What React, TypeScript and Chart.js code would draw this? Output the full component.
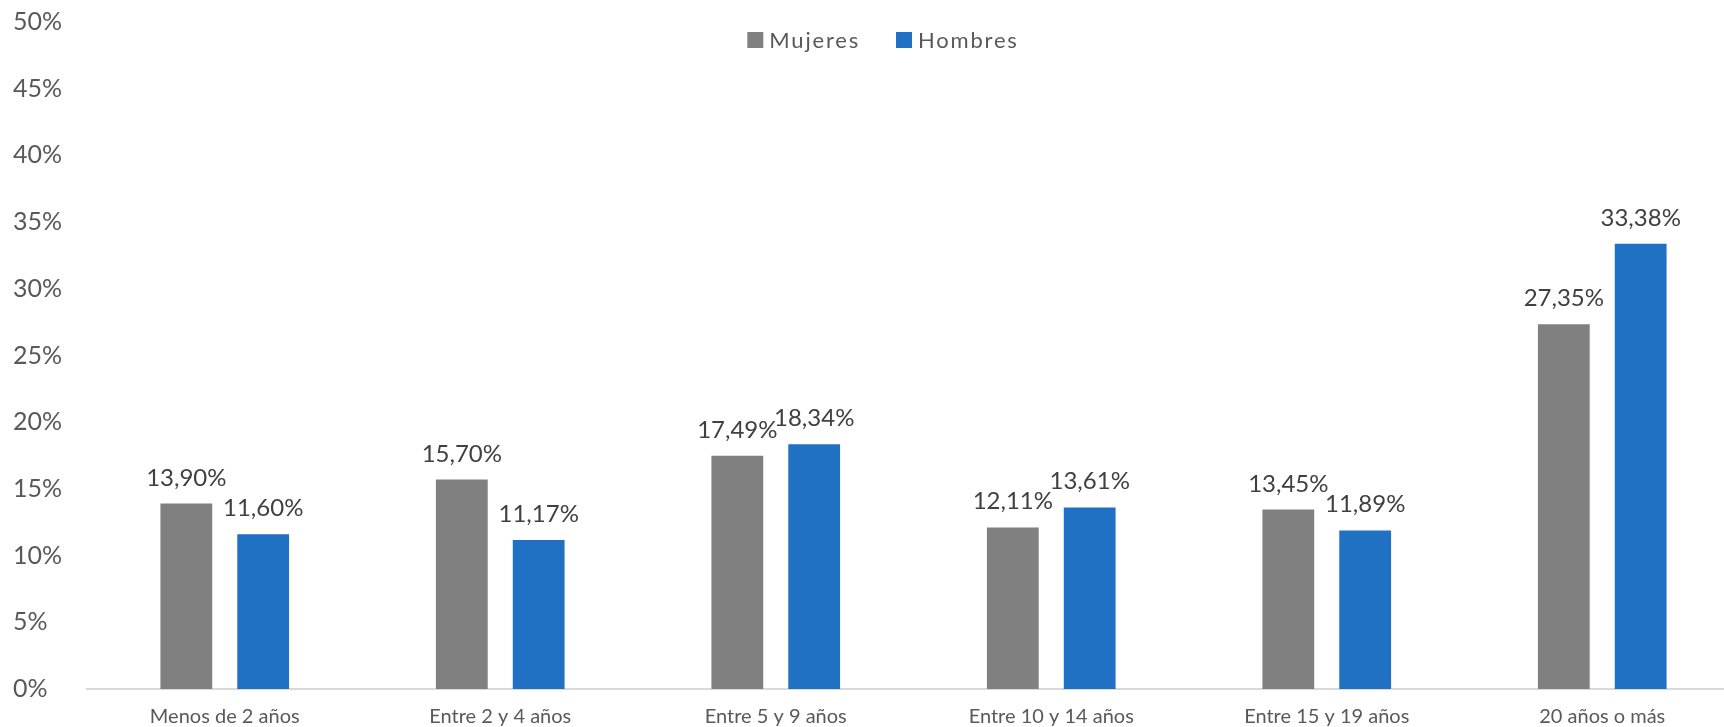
import React, { useEffect, useRef } from "react";
import { Chart, registerables } from "chart.js";

Chart.register(...registerables);

const categories = [
  "Menos de 2 años",
  "Entre 2 y 4 años",
  "Entre 5 y 9 años",
  "Entre 10 y 14 años",
  "Entre 15 y 19 años",
  "20 años o más",
];
const mujeres = [13.9, 15.7, 17.49, 12.11, 13.45, 27.35];
const hombres = [11.6, 11.17, 18.34, 13.61, 11.89, 33.38];
const seriesNames = ["Mujeres", "Hombres"];
const yTicks = [0, 5, 10, 15, 20, 25, 30, 35, 40, 45, 50];

const GRAY = "#808080";
const BLUE = "#2070C4";
const FONT = "Lato";

const fmt = (v: number) => v.toFixed(2).replace(".", ",") + "%";

const dataLabelPlugin = {
  id: "dataLabels",
  afterDatasetsDraw(chart: any) {
    const ctx = chart.ctx;
    ctx.save();
    ctx.font = `24px ${FONT}`;
    ctx.fillStyle = "#404040";
    ctx.textAlign = "center";
    ctx.textBaseline = "alphabetic";
    chart.data.datasets.forEach((ds: any, i: number) => {
      const meta = chart.getDatasetMeta(i);
      meta.data.forEach((el: any, j: number) => {
        ctx.fillText(fmt(ds.data[j]), el.x, el.y - 18);
      });
    });
    ctx.restore();
  },
};

const customLegendPlugin = {
  id: "customLegend",
  afterDraw(chart: any, _args: any, opts: any) {
    const ctx = chart.ctx;
    ctx.save();
    ctx.font = `22px ${FONT}`;
    try {
      (ctx as any).letterSpacing = "1.8px";
    } catch (e) {}
    const box = 16;
    const textGap = 6;
    const itemGap = 36;
    const items = chart.data.datasets.map((ds: any) => ({
      text: ds.label,
      color: ds.backgroundColor,
      w: ctx.measureText(ds.label).width,
    }));
    const total =
      items.reduce((s: number, it: any) => s + box + textGap + it.w, 0) +
      itemGap * (items.length - 1);
    let x = opts.centerX - total / 2;
    const cy = opts.centerY;
    items.forEach((it: any) => {
      ctx.fillStyle = it.color;
      ctx.fillRect(x, cy - box / 2, box, box);
      x += box + textGap;
      ctx.fillStyle = "#595959";
      ctx.textAlign = "left";
      ctx.textBaseline = "middle";
      ctx.fillText(it.text, x, cy + 1);
      x += it.w + itemGap;
    });
    ctx.restore();
  },
};

export default function App() {
  const ref = useRef<HTMLCanvasElement | null>(null);

  useEffect(() => {
    if (!ref.current) return;
    const chart = new Chart(ref.current, {
      type: "bar",
      data: {
        labels: categories,
        datasets: [
          {
            label: seriesNames[0],
            data: mujeres,
            backgroundColor: GRAY,
            categoryPercentage: 0.558,
            barPercentage: 0.674,
          },
          {
            label: seriesNames[1],
            data: hombres,
            backgroundColor: BLUE,
            categoryPercentage: 0.558,
            barPercentage: 0.674,
          },
        ],
      },
      options: {
        responsive: false,
        animation: false,
        layout: { padding: { left: 13, right: 4, top: 22, bottom: 0 } },
        plugins: {
          legend: { display: false },
          tooltip: { enabled: false },
          customLegend: { centerX: 883, centerY: 40 },
        } as any,
        scales: {
          x: {
            grid: { display: false, drawTicks: false },
            border: { display: true, color: "#D9D9D9", width: 2 },
            ticks: {
              color: "#595959",
              font: { family: FONT, size: 20 },
              padding: 16,
              maxRotation: 0,
              autoSkip: false,
            },
            afterFit: (s: any) => {
              s.height = 38;
            },
          },
          y: {
            min: 0,
            max: 50,
            afterBuildTicks: (s: any) => {
              s.ticks = yTicks.map((v) => ({ value: v }));
            },
            grid: { display: false, drawTicks: false },
            border: { display: false },
            ticks: {
              color: "#595959",
              font: { family: FONT, size: 25 },
              crossAlign: "far",
              callback: (v: any) => v + "%",
            },
            afterFit: (s: any) => {
              s.width = 74;
            },
          },
        },
      },
      plugins: [dataLabelPlugin, customLegendPlugin],
    });
    return () => chart.destroy();
  }, []);

  return (
    <div
      style={{
        position: "fixed",
        left: 0,
        top: 0,
        width: 1724,
        height: 727,
        overflow: "hidden",
        background: "#fff",
      }}
    >
      <canvas ref={ref} width={1744} height={727} style={{ display: "block" }} />
    </div>
  );
}
